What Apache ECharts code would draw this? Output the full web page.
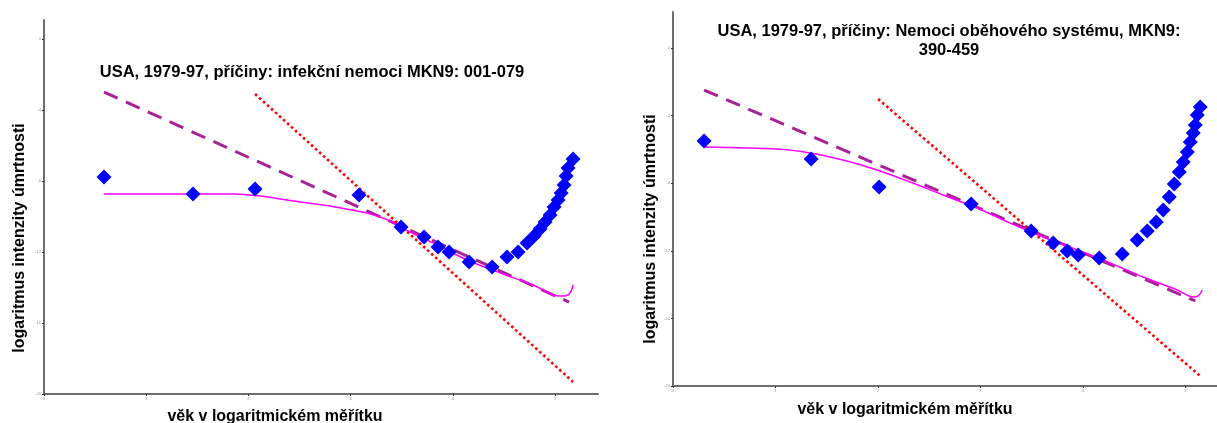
<!DOCTYPE html>
<html>
<head>
<meta charset="utf-8">
<title>USA 1979-97</title>
<script src="https://cdn.jsdelivr.net/npm/echarts@6/dist/echarts.min.js"></script>
<style>
  html, body { margin: 0; padding: 0; background: #fff; }
  #chart { width: 1217px; height: 423px; }
</style>
</head>
<body>
<div id="chart"></div>
<script>
// osa x: log věku, osa y: log intenzity úmrtnosti
var xTicks = [0, 1, 2, 3, 4, 5];
var yTicks = [-20, -16, -12, -8, -4, 0];

// levý graf - infekční nemoci
var infX = [0.587, 1.458, 2.065, 3.082, 3.493, 3.718, 3.855, 3.963, 4.159, 4.384, 4.530, 4.638,
  4.726, 4.795, 4.853, 4.902, 4.951, 4.990, 5.029, 5.059, 5.088, 5.108, 5.127, 5.176];
var infY = [-7.77, -8.73, -8.45, -8.79, -10.59, -11.15, -11.72, -12.0, -12.56, -12.85, -12.28, -12.0,
  -11.49, -11.10, -10.70, -10.31, -9.92, -9.46, -9.07, -8.68, -8.23, -7.72, -7.27, -6.76];
var infFitX = [0.587, 1.135, 1.849, 2.114, 2.505, 2.798, 3.160, 3.386, 3.483, 3.806, 4.139, 4.462,
  4.785, 4.980, 5.078, 5.127, 5.157, 5.176];
var infFitY = [-8.73, -8.73, -8.73, -8.85, -9.18, -9.41, -9.80, -10.25, -10.59, -11.49, -12.45, -13.18,
  -13.86, -14.42, -14.48, -14.42, -14.20, -13.86];
var infDashX = [0.587, 5.137];
var infDashY = [-2.99, -14.82];
var infDotX = [2.065, 5.176];
var infDotY = [-3.10, -19.32];

// pravý graf - nemoci oběhového systému
var obeX = [0.303, 1.348, 2.012, 2.910, 3.496, 3.711, 3.848, 3.955, 4.160, 4.385, 4.531, 4.629,
  4.717, 4.785, 4.844, 4.893, 4.941, 4.980, 5.020, 5.049, 5.078, 5.098, 5.117, 5.146];
var obeY = [-5.50, -6.57, -8.22, -9.23, -10.83, -11.54, -12.01, -12.25, -12.43, -12.19, -11.36, -10.83,
  -10.30, -9.59, -8.82, -8.05, -7.34, -6.75, -6.15, -5.56, -5.03, -4.56, -3.96, -3.49];
var obeFitX = [0.303, 1.016, 1.338, 1.660, 1.992, 2.314, 2.637, 2.969, 3.291, 3.613, 3.945, 4.268,
  4.590, 4.922, 5.078, 5.127, 5.166];
var obeFitY = [-5.86, -5.98, -6.21, -6.63, -7.22, -7.93, -8.70, -9.47, -10.36, -11.18, -11.95, -12.72,
  -13.55, -14.32, -14.73, -14.67, -14.32];
var obeDashX = [0.303, 5.098];
var obeDashY = [-2.49, -14.97];
var obeDotX = [2.002, 5.146];
var obeDotY = [-3.02, -19.41];

var titleInf = "USA, 1979-97, příčiny: infekční nemoci MKN9: 001-079";
var titleObe = "USA, 1979-97, příčiny: Nemoci oběhového systému, MKN9:\n390-459";
var xName = "věk v logaritmickém měřítku";
var yName = "logaritmus intenzity úmrtnosti";

function pairs(xs, ys) {
  return xs.map(function (x, i) {
    return [x, ys[i]];
  });
}

var font = '"Liberation Sans", Arial, sans-serif';

function xAxisFor(idx, max) {
  return {
    type: "value",
    gridIndex: idx,
    min: 0,
    max: max,
    interval: 1,
    axisLine: { show: true, onZero: false, lineStyle: { color: "#6e6e6e", width: 2 } },
    axisTick: { show: true, length: 2, customValues: xTicks, lineStyle: { color: "#333", width: 1 } },
    axisLabel: { fontSize: 4, color: "#999", margin: 3, customValues: xTicks },
    splitLine: { show: false },
  };
}

function yAxisFor(idx, max) {
  return {
    type: "value",
    gridIndex: idx,
    min: -20,
    max: max,
    interval: 4,
    axisLine: { show: true, onZero: false, lineStyle: { color: "#6e6e6e", width: 2 } },
    axisTick: { show: true, length: 2, customValues: yTicks, lineStyle: { color: "#333", width: 1 } },
    axisLabel: { fontSize: 4, color: "#999", margin: 3, customValues: yTicks },
    splitLine: { show: false },
  };
}

function seriesFor(idx, pts, fitX, fitY, dashX, dashY, dotX, dotY) {
  return [
    {
      type: "line",
      xAxisIndex: idx,
      yAxisIndex: idx,
      data: pairs(dashX, dashY),
      symbol: "none",
      z: 1,
      lineStyle: { color: "#a62296", width: 3, type: [15, 9] },
    },
    {
      type: "line",
      xAxisIndex: idx,
      yAxisIndex: idx,
      data: pairs(dotX, dotY),
      symbol: "none",
      z: 2,
      lineStyle: { color: "#ff0000", width: 2.6, type: [2.6, 2.8] },
    },
    {
      type: "line",
      xAxisIndex: idx,
      yAxisIndex: idx,
      data: pairs(fitX, fitY),
      symbol: "none",
      smooth: 0.3,
      z: 3,
      lineStyle: { color: "#ff00ff", width: 1.5 },
    },
    {
      type: "scatter",
      xAxisIndex: idx,
      yAxisIndex: idx,
      data: pts,
      symbol: "diamond",
      symbolSize: 15,
      z: 4,
      itemStyle: { color: "#0000ff", opacity: 1 },
    },
  ];
}

function label(txt, x, y, size, rot) {
  return {
    type: "text",
    x: x,
    y: y,
    rotation: rot || 0,
    style: {
      text: txt,
      font: "bold " + size + "px " + font,
      fill: "#000",
      textAlign: "center",
      textVerticalAlign: "middle",
      align: "center",
      verticalAlign: "middle",
      lineHeight: 19,
    },
  };
}

var chart = echarts.init(document.getElementById("chart"), null, { renderer: "canvas" });

var option = {
  animation: false,
  backgroundColor: "#fff",
  grid: [
    { left: 44, top: 20, width: 554, height: 374 },
    { left: 673, top: 12, width: 544, height: 374 },
  ],
  xAxis: [xAxisFor(0, 5.42), xAxisFor(1, 5.31)],
  yAxis: [yAxisFor(0, 1.07), yAxisFor(1, 2.13)],
  series: []
    .concat(seriesFor(0, pairs(infX, infY), infFitX, infFitY, infDashX, infDashY, infDotX, infDotY))
    .concat(seriesFor(1, pairs(obeX, obeY), obeFitX, obeFitY, obeDashX, obeDashY, obeDotX, obeDotY)),
  graphic: [
    label(titleInf, 312, 72, 16.5),
    label(titleObe, 949, 41, 16.5),
    label(xName, 275, 417, 16),
    label(xName, 905, 410, 16),
    label(yName, 20, 238, 16, Math.PI / 2),
    label(yName, 651, 229, 16, Math.PI / 2),
  ],
};

chart.setOption(option);
</script>
</body>
</html>
